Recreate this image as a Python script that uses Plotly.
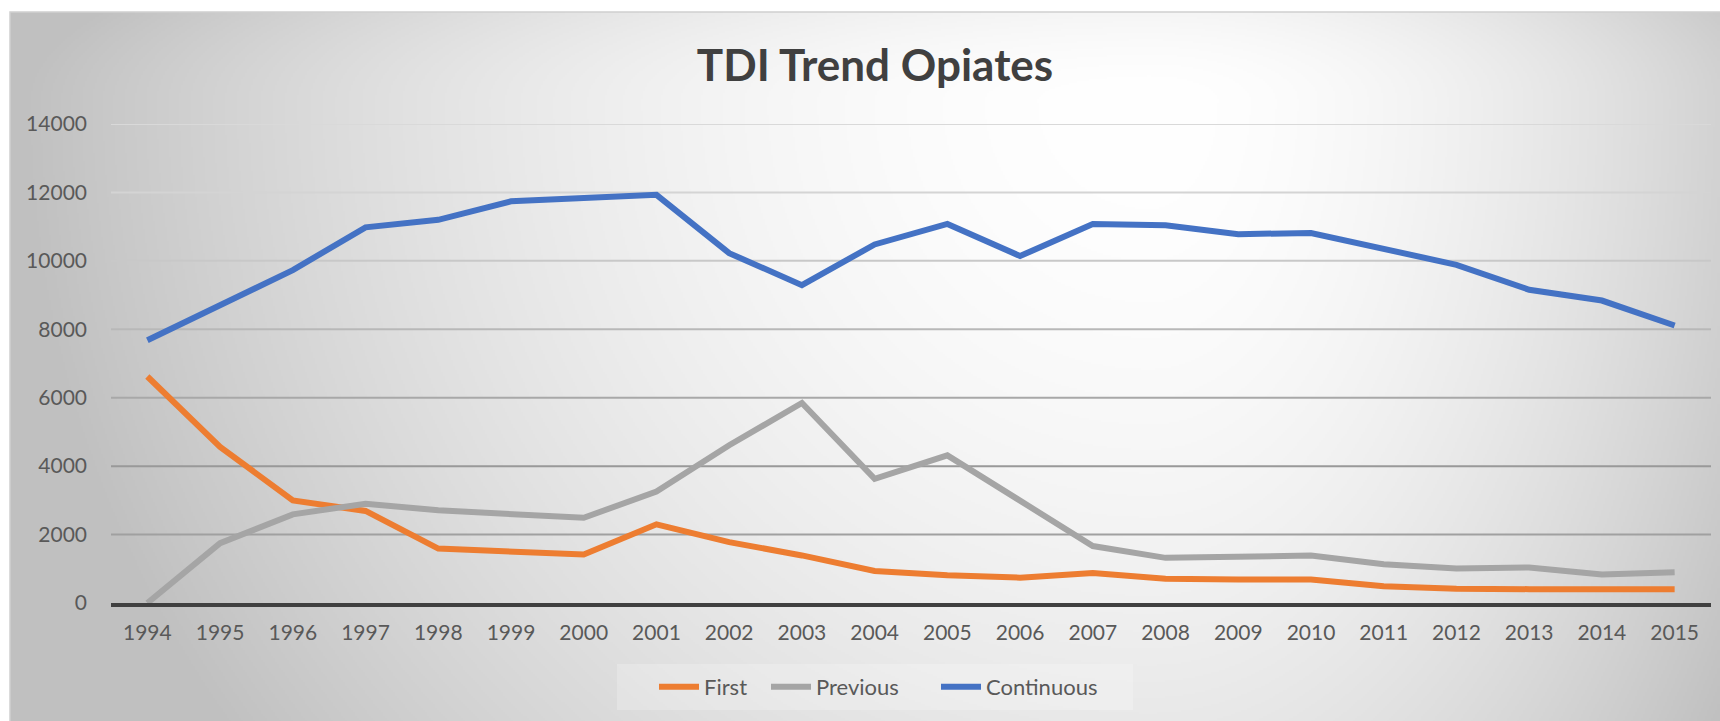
import base64
import struct
import zlib

import numpy as np
import plotly.graph_objects as go

# data
years = [str(y) for y in range(1994, 2016)]
first = [6620, 4560, 3000, 2690, 1590, 1510, 1420, 2300, 1780, 1390, 935,
         810, 740, 880, 710, 690, 690, 490, 415, 405, 405, 405]
previous = [0, 1750, 2590, 2900, 2710, 2590, 2490, 3260, 4610, 5845, 3630,
            4315, 3000, 1665, 1320, 1365, 1385, 1135, 1005, 1040, 830, 900]
continuous = [7680, 8700, 9730, 10980, 11200, 11740, 11835, 11930, 10225, 9290,
              10480, 11080, 10140, 11080, 11040, 10780, 10815, 10340, 9885,
              9155, 8840, 8110]
y_ticks = [0, 2000, 4000, 6000, 8000, 10000, 12000, 14000]
y_labels = [str(v) for v in y_ticks]
grid_colors = ["#a0a0a0", "#999999", "#a8a8a8", "#b8b8b8",
               "#c8c8c8", "#d4d4d4", "#d9d9d9"]

W, H = 1720, 721
ML, MR, MT, MB = 111, 9, 124, 118
PW, PH = W - ML - MR, H - MT - MB

# chart-area box (pixels)
CX0, CY0, CX1, CY1 = 10, 12, 1720, 721


def gradient_png(w, h, scale):
    # radial-ish grey gradient, bright near the top middle-right
    xs = (np.arange(w) + 0.5) * scale + CX0
    ys = (np.arange(h) + 0.5) * scale + CY0
    X, Y = np.meshgrid(xs, ys)
    cx, cy = 1150.0, 100.0
    ax = np.where(X < cx, 1130.0, 690.0)
    ay = np.where(Y < cy, 250.0, 1100.0)
    t = np.sqrt(((X - cx) / ax) ** 2 + ((Y - cy) / ay) ** 2)
    t = np.clip(t, 0, 1) ** 1.8
    img = np.clip(255 - 63 * t, 0, 255).astype(np.uint8)
    raw = b"".join(b"\x00" + row.tobytes() for row in img)

    def chunk(tag, data):
        c = struct.pack(">I", len(data)) + tag + data
        return c + struct.pack(">I", zlib.crc32(tag + data) & 0xffffffff)

    png = b"\x89PNG\r\n\x1a\n"
    png += chunk(b"IHDR", struct.pack(">IIBBBBB", w, h, 8, 0, 0, 0, 0))
    png += chunk(b"IDAT", zlib.compress(raw, 9))
    png += chunk(b"IEND", b"")
    return "data:image/png;base64," + base64.b64encode(png).decode()


def px_x(px):
    return (px - ML) / PW


def px_y(py):
    return (H - MB - py) / PH


fig = go.Figure()
series = [("First", first, "#ED7D31", "legend", 654),
          ("Previous", previous, "#A5A5A5", "legend2", 766),
          ("Continuous", continuous, "#4472C4", "legend3", 936)]
legends = {}
for name, vals, color, leg, lx in series:
    fig.add_trace(go.Scatter(
        x=years, y=vals, mode="lines", name=name, legend=leg,
        line=dict(color=color, width=6),
    ))
    legends[leg] = dict(orientation="h", x=px_x(lx), xanchor="left",
                        y=px_y(687), yanchor="middle",
                        bgcolor="rgba(0,0,0,0)", borderwidth=0,
                        font=dict(family="Lato", size=22, color="#595959"),
                        itemwidth=40)

shapes = []
for v, c in zip(y_ticks[1:], grid_colors):
    shapes.append(dict(type="line", xref="paper", yref="y", x0=0, x1=1,
                       y0=v, y1=v, line=dict(color=c, width=2), layer="below"))
# chart border
shapes.append(dict(type="rect", xref="paper", yref="paper",
                   x0=px_x(CX0), x1=px_x(CX1 + 5),
                   y0=px_y(CY1 + 5), y1=px_y(CY0),
                   line=dict(color="#d0d0d0", width=1.5), layer="below"))
# legend box
shapes.append(dict(type="rect", xref="paper", yref="paper",
                   x0=px_x(617), x1=px_x(1133), y0=px_y(710), y1=px_y(664),
                   line=dict(width=0), fillcolor="rgba(255,255,255,0.22)",
                   layer="below"))

fig.update_layout(
    width=W, height=H,
    margin=dict(l=ML, r=MR, t=MT, b=MB),
    paper_bgcolor="white",
    plot_bgcolor="rgba(0,0,0,0)",
    font=dict(family="Lato", size=21, color="#595959"),
    title=dict(text="TDI Trend Opiates", x=875 / W, xanchor="center",
               y=1 - 66 / H, yanchor="middle", yref="container",
               font=dict(family="Lato", size=44, color="#404040", weight="bold")),
    showlegend=True,
    images=[dict(source=gradient_png((CX1 - CX0) // 2, (CY1 - CY0) // 2 + 1, 2),
                 xref="paper", yref="paper",
                 x=px_x(CX0), y=px_y(CY0),
                 sizex=(CX1 - CX0) / PW, sizey=(CY1 - CY0 + 2) / PH,
                 xanchor="left", yanchor="top", sizing="stretch",
                 layer="below")],
    shapes=shapes,
    **legends,
)
fig.update_xaxes(type="category", range=[-0.5, len(years) - 0.5],
                 showgrid=False, zeroline=False,
                 showline=True, linecolor="#404040", linewidth=4,
                 ticks="", ticklabelstandoff=8,
                 tickfont=dict(size=21, color="#595959"))
fig.update_yaxes(range=[0, 14000], tickvals=y_ticks, ticktext=y_labels,
                 showgrid=False, zeroline=False, showline=False, ticks="",
                 ticklabelstandoff=23,
                 tickfont=dict(size=21, color="#595959"))

fig.write_html(
    "out.html",
    config={"displayModeBar": False},
    post_script="document.body.style.margin='0';"
                "document.body.style.overflow='hidden';",
)
